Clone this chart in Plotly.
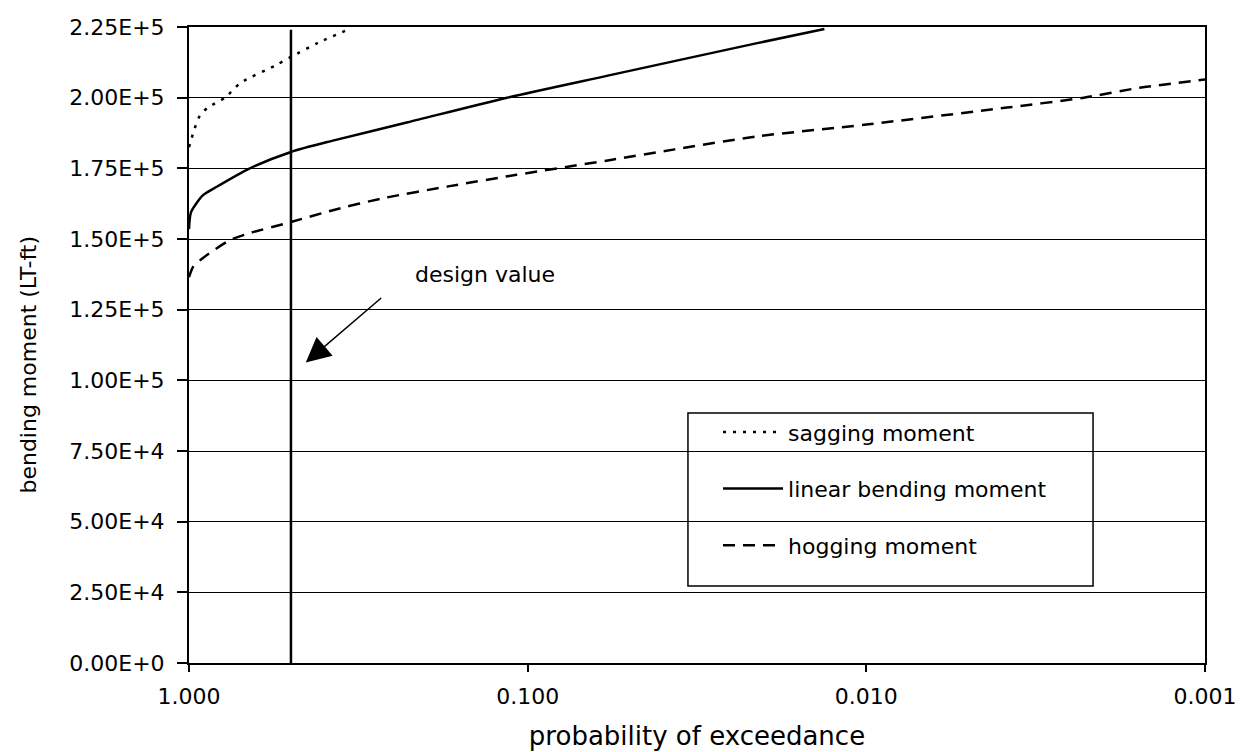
import numpy as np
import plotly.graph_objects as go

# probability of exceedance (x) and bending moment in LT-ft (y)
sag_p = [1.0, 0.985, 0.973, 0.928, 0.879, 0.783, 0.703, 0.557, 0.5, 0.416, 0.34]
sag_m = [182500, 185000, 187400, 193700, 196500, 200000, 205300, 211300, 214400, 219400, 224000]

lin_p = [1.0, 0.986, 0.909, 0.833, 0.661, 0.5, 0.376, 0.226, 0.115, 0.058, 0.021, 0.0133]
lin_m = [153500, 159500, 165500, 168300, 175000, 180800, 184800, 191300, 200000, 207800, 219300, 224300]

hog_p = [1.0, 0.973, 0.909, 0.757, 0.661, 0.5, 0.376, 0.268, 0.17, 0.108, 0.058, 0.0368,
         0.021, 0.01, 0.00384, 0.00228, 0.00156, 0.001]
hog_m = [136500, 140100, 143300, 149600, 152100, 156000, 160200, 164400, 168700, 172700, 177800,
         181700, 186300, 190500, 196500, 200000, 203500, 206400]

design_p = [0.5, 0.5]
design_m = [0, 224000]

x_ticks = [1.0, 0.1, 0.01, 0.001]
x_labels = ['1.000', '0.100', '0.010', '0.001']
y_ticks = [0, 25000, 50000, 75000, 100000, 125000, 150000, 175000, 200000, 225000]
y_labels = ['0.00E+0', '2.50E+4', '5.00E+4', '7.50E+4', '1.00E+5',
            '1.25E+5', '1.50E+5', '1.75E+5', '2.00E+5', '2.25E+5']

# arrow for the design value note: tip, tail, and text position
arrow_tip = (0.452, 106300)
arrow_tail = (0.268, 129600)
note_pos = (0.134, 137500)

FONT = 'DejaVu Sans'

fig = go.Figure()

fig.add_trace(go.Scatter(x=sag_p, y=sag_m, mode='lines', name='sagging moment',
                         legendgroup='a', line=dict(color='black', width=2.5, dash='3px,7px',
                                                    shape='spline', smoothing=0.7)))
fig.add_trace(go.Scatter(x=lin_p, y=lin_m, mode='lines', name='linear bending moment',
                         legendgroup='b', line=dict(color='black', width=2.5,
                                                    shape='spline', smoothing=0.7)))
fig.add_trace(go.Scatter(x=hog_p, y=hog_m, mode='lines', name='hogging moment',
                         legendgroup='c', line=dict(color='black', width=2.5, dash='12px,8px',
                                                    shape='spline', smoothing=0.7)))
fig.add_trace(go.Scatter(x=design_p, y=design_m, mode='lines', showlegend=False,
                         line=dict(color='black', width=2.5)))

fig.add_annotation(x=np.log10(arrow_tip[0]), y=arrow_tip[1], xref='x', yref='y',
                   ax=np.log10(arrow_tail[0]), ay=arrow_tail[1], axref='x', ayref='y',
                   text='', showarrow=True, arrowhead=2, arrowsize=3.3, arrowwidth=1.5,
                   arrowcolor='black')
fig.add_annotation(x=np.log10(note_pos[0]), y=note_pos[1], xref='x', yref='y',
                   text='design value', showarrow=False, font=dict(size=22, family=FONT))

# y axis title placed by hand (sits a bit below the plot centre)
fig.add_annotation(x=-0.158, y=0.47, xref='paper', yref='paper', text='bending moment (LT-ft)',
                   xanchor='center', yanchor='middle',
                   textangle=-90, showarrow=False, font=dict(size=22, family=FONT))

# legend frame, wider than plotly's own box
fig.add_shape(type='rect', xref='paper', yref='paper', x0=0.4911, x1=0.8898, y0=0.121, y1=0.393,
              line=dict(color='black', width=1.5), fillcolor='white', layer='between')

fig.update_layout(
    width=1245, height=752,
    margin=dict(l=181, r=48, t=19, b=97),
    plot_bgcolor='white', paper_bgcolor='white',
    font=dict(family=FONT, size=22, color='black'),
    legend=dict(x=0.5207, y=0.396, xanchor='left', yanchor='top',
                bgcolor='rgba(0,0,0,0)', borderwidth=0,
                tracegroupgap=25, itemwidth=60, font=dict(size=22)),
    xaxis=dict(type='log', range=[0, -3], tickvals=x_ticks, ticktext=x_labels,
               ticks='outside', ticklen=7, tickwidth=1.5, tickcolor='black',
               ticklabelstandoff=6,
               showline=True, linecolor='black', linewidth=2, mirror=True,
               showgrid=False, zeroline=False, automargin=False,
               title=dict(text='probability of exceedance', standoff=18)),
    yaxis=dict(range=[0, 225000], tickvals=y_ticks, ticktext=y_labels,
               ticks='outside', ticklen=10, tickwidth=1.5, tickcolor='black',
               ticklabelstandoff=8,
               showline=True, linecolor='black', linewidth=2, mirror=True,
               showgrid=True, gridcolor='black', gridwidth=1, zeroline=False,
               automargin=False),
)

fig.write_html("out.html")
